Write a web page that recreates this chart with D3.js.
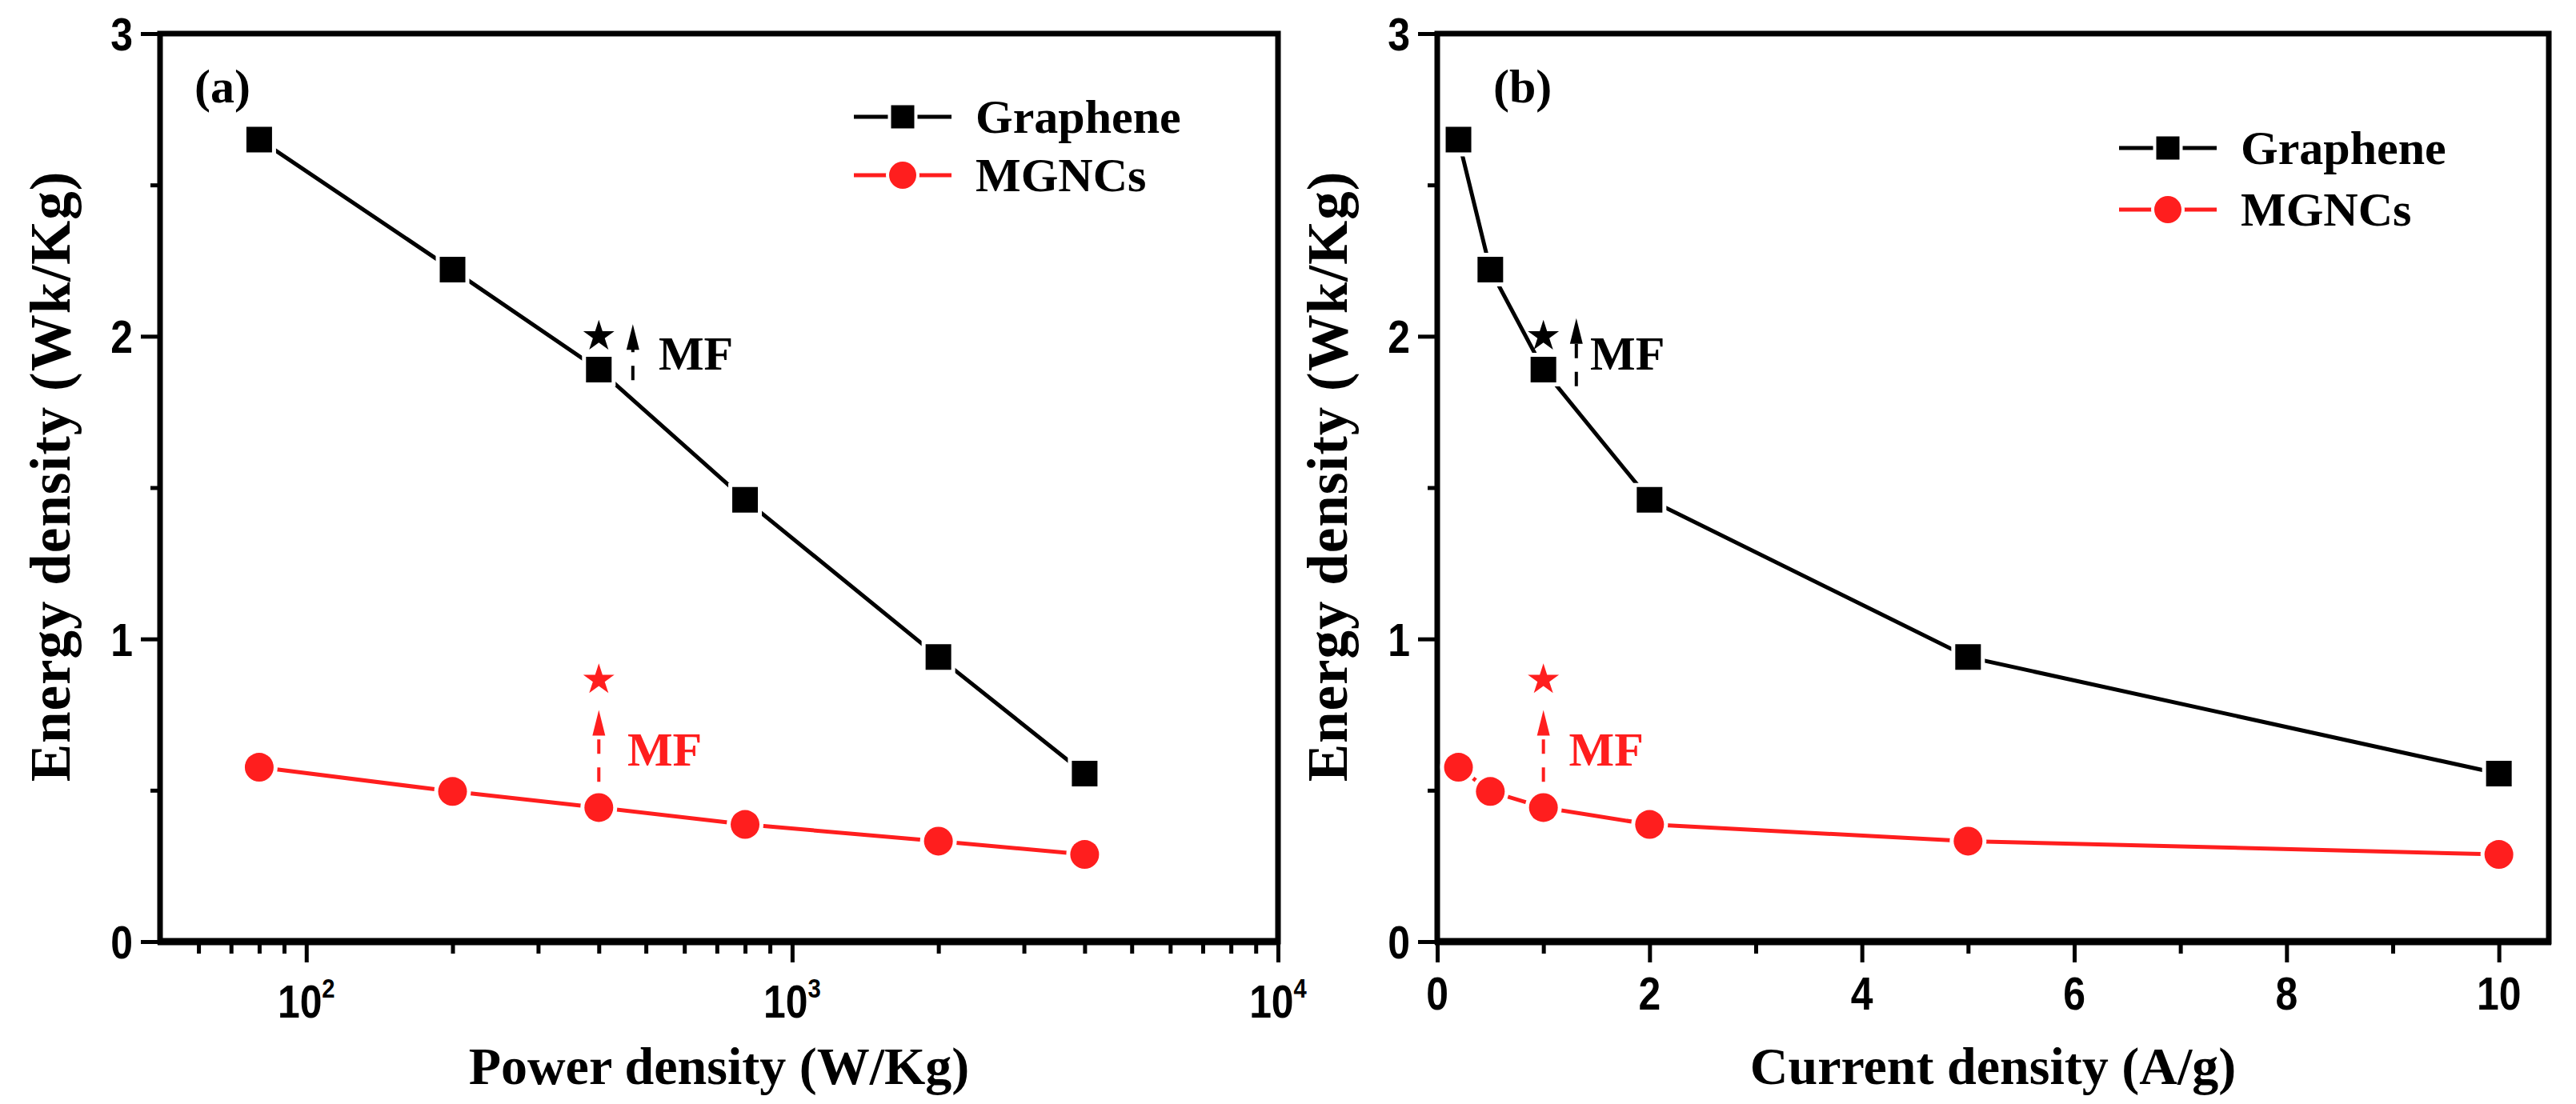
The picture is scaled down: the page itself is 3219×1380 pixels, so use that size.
<!DOCTYPE html>
<html><head><meta charset="utf-8">
<script src="https://cdn.jsdelivr.net/npm/d3@7"></script>
<style>html,body{margin:0;padding:0;background:#fff;} svg{display:block}</style>
</head><body>
<svg id="chart" width="3219" height="1380"></svg>
<script>
// ---------- data ----------
const seriesNames = ["Graphene", "MGNCs"];
const powerDensity = [80, 200, 400, 800, 2000, 4000];      // W/Kg  (panel a)
const currentDensity = [0.2, 0.5, 1, 2, 5, 10];              // A/g   (panel b)
const grapheneEnergy = [2.65, 2.22, 1.89, 1.46, 0.94, 0.555];
const mgncsEnergy = [0.576, 0.496, 0.443, 0.387, 0.332, 0.288];

const yTicks = [0, 1, 2, 3];
const yMinorTicks = [0.5, 1.5, 2.5];
const powerTicks = [100, 1000, 10000];
const powerTickExp = ["2", "3", "4"];
const powerMinorTicks = [60, 70, 80, 90, 200, 300, 400, 500, 600, 700, 800, 900,
                         2000, 3000, 4000, 5000, 6000, 7000, 8000, 9000];
const currentTicks = [0, 2, 4, 6, 8, 10];
const currentMinorTicks = [1, 3, 5, 7, 9];

// MF annotations (data units)
const mfStarsA = [{x: 400, y: 2.0, s: 0}, {x: 400, y: 0.865, s: 1}];
const mfArrowsA = [{x: 470, y0: 1.855, y1: 2.04, s: 0}, {x: 400, y0: 0.528, y1: 0.765, s: 1}];
const mfLabelsA = [{x: 531, y: 1.89, s: 0}, {x: 458, y: 0.581, s: 1}];
const mfStarsB = [{x: 1, y: 2.0, s: 0}, {x: 1, y: 0.865, s: 1}];
const mfArrowsB = [{x: 1.31, y0: 1.835, y1: 2.06, s: 0}, {x: 1, y0: 0.528, y1: 0.765, s: 1}];
const mfLabelsB = [{x: 1.44, y: 1.89, s: 0}, {x: 1.24, y: 0.581, s: 1}];

// ---------- style ----------
const colors = ["#000000", "#ff1e1e"];
const serif = "'Liberation Serif','Times New Roman',serif";
const sans = "'Liberation Sans',Arial,sans-serif";
const narrow = 0.86;

const svg = d3.select("#chart");

function panel(cfg) {
  const g = svg.append("g");
  const x = cfg.x, y = cfg.y;
  const [L, R] = x.range();
  const [B, T] = y.range();

  // frame
  g.append("rect").attr("x", L).attr("y", T).attr("width", R - L).attr("height", B - T)
    .attr("fill", "none").attr("stroke", "#000").attr("stroke-width", 7);
  g.append("line").attr("x1", L - 3).attr("x2", R + 3).attr("y1", B).attr("y2", B)
    .attr("stroke", "#000").attr("stroke-width", 9);

  // y ticks
  const yMaj = g.append("g").attr("transform", `translate(${L},0)`)
    .call(d3.axisLeft(y).tickValues(yTicks).tickSize(24).tickFormat(""));
  const yMin = g.append("g").attr("transform", `translate(${L},0)`)
    .call(d3.axisLeft(y).tickValues(yMinorTicks).tickSize(12).tickFormat(""));
  // x ticks
  const xMaj = g.append("g").attr("transform", `translate(0,${B})`)
    .call(d3.axisBottom(x).tickValues(cfg.xTicks).tickSize(26).tickFormat(""));
  const xMin = g.append("g").attr("transform", `translate(0,${B})`)
    .call(d3.axisBottom(x).tickValues(cfg.xMinor).tickSize(15).tickFormat(""));
  [yMaj, yMin, xMaj, xMin].forEach(a => {
    a.select(".domain").remove();
    a.selectAll("line").attr("stroke", "#000").attr("stroke-width", 5);
  });

  // y tick labels (slightly condensed sans)
  g.selectAll(".ylab").data(yTicks).join("text")
    .attr("transform", d => `translate(${L - 34},${y(d)}) scale(${narrow},1)`)
    .attr("dy", "0.36em")
    .attr("text-anchor", "end").attr("font-family", sans).attr("font-weight", "bold")
    .attr("font-size", 58).text(d => d);

  // x tick labels
  const xl = g.selectAll(".xlab").data(cfg.xTicks).join("text")
    .attr("transform", d => `translate(${x(d)},${cfg.xLabBase}) scale(${narrow},1)`)
    .attr("text-anchor", "middle").attr("font-family", sans).attr("font-weight", "bold")
    .attr("font-size", 58);
  if (cfg.exps) {
    xl.each(function(d, i) {
      const t = d3.select(this);
      t.append("tspan").text("10");
      t.append("tspan").attr("font-size", 34).attr("dy", -25).text(cfg.exps[i]);
    });
  } else {
    xl.text(d => d);
  }

  // axis titles
  g.append("text").attr("x", (L + R) / 2).attr("y", 1355).attr("text-anchor", "middle")
    .attr("font-family", serif).attr("font-weight", "bold").attr("font-size", 66)
    .text(cfg.xTitle);
  g.append("text").attr("transform", `translate(${L - 113},${(T + B) / 2 - 14}) rotate(-90)`)
    .attr("text-anchor", "middle").attr("font-family", serif).attr("font-weight", "bold")
    .attr("font-size", 71).attr("letter-spacing", 1).text("Energy density (Wk/Kg)");

  // panel letter
  g.append("text").attr("x", L + cfg.letterDx).attr("y", 128)
    .attr("font-family", serif).attr("font-weight", "bold").attr("font-size", 60)
    .text(cfg.letter);

  // series
  const series = [grapheneEnergy, mgncsEnergy];
  series.forEach((vals, si) => {
    const pts = cfg.xs.map((xv, i) => [x(xv), y(vals[i])]);
    g.append("path").attr("d", d3.line()(pts)).attr("fill", "none")
      .attr("stroke", colors[si]).attr("stroke-width", 5);
    // white halo then marker
    g.selectAll(null).data(pts).join("path")
      .attr("transform", p => `translate(${p[0]},${p[1]})`)
      .attr("d", si === 0 ? d3.symbol(d3.symbolSquare, 42 * 42)() : d3.symbol(d3.symbolCircle, Math.PI * 23 * 23)())
      .attr("fill", "#fff");
    g.selectAll(null).data(pts).join("path")
      .attr("transform", p => `translate(${p[0]},${p[1]})`)
      .attr("d", si === 0 ? d3.symbol(d3.symbolSquare, 32 * 32)() : d3.symbol(d3.symbolCircle, Math.PI * 18 * 18)())
      .attr("fill", colors[si]);
  });

  // MF stars
  g.selectAll(null).data(cfg.stars).join("path")
    .attr("transform", d => `translate(${x(d.x)},${y(d.y)})`)
    .attr("d", d3.symbol(d3.symbolStar, 470)())
    .attr("fill", d => colors[d.s]);
  // MF arrows (dashed shaft + head)
  cfg.arrows.forEach(a => {
    const ax = x(a.x), yb = y(a.y0), yt = y(a.y1), head = 32;
    g.append("line").attr("x1", ax).attr("x2", ax).attr("y1", yb).attr("y2", yt + head - 4)
      .attr("stroke", colors[a.s]).attr("stroke-width", 4).attr("stroke-dasharray", "18,17");
    g.append("path").attr("d", `M${ax},${yt} L${ax - 8},${yt + head} L${ax + 8},${yt + head} Z`)
      .attr("fill", colors[a.s]);
  });
  // MF labels
  g.selectAll(null).data(cfg.labels).join("text")
    .attr("x", d => x(d.x)).attr("y", d => y(d.y))
    .attr("font-family", serif).attr("font-weight", "bold").attr("font-size", 60)
    .attr("fill", d => colors[d.s]).text("MF");

  // legend
  seriesNames.forEach((name, si) => {
    const ly = cfg.legY[si], lx = cfg.legX;
    g.append("line").attr("x1", lx).attr("x2", lx + 122).attr("y1", ly).attr("y2", ly)
      .attr("stroke", colors[si]).attr("stroke-width", 5);
    g.append("path").attr("transform", `translate(${lx + 61},${ly})`)
      .attr("d", si === 0 ? d3.symbol(d3.symbolSquare, 37 * 37)() : d3.symbol(d3.symbolCircle, Math.PI * 21 * 21)())
      .attr("fill", "#fff");
    g.append("path").attr("transform", `translate(${lx + 61},${ly})`)
      .attr("d", si === 0 ? d3.symbol(d3.symbolSquare, 29 * 29)() : d3.symbol(d3.symbolCircle, Math.PI * 17 * 17)())
      .attr("fill", colors[si]);
    g.append("text").attr("x", lx + 152).attr("y", ly).attr("dy", "0.33em")
      .attr("font-family", serif).attr("font-weight", "bold").attr("font-size", 60)
      .text(name);
  });
}

const yA = d3.scaleLinear().domain([0, 3]).range([1177, 42]);
const xA = d3.scaleLog().domain([50, 10000]).range([200, 1597]);
const yB = d3.scaleLinear().domain([0, 3]).range([1177, 42]);
const xB = d3.scaleLinear().domain([0, 10.47]).range([1796, 3185]);

panel({x: xA, y: yA, xs: powerDensity, xTicks: powerTicks, xMinor: powerMinorTicks,
  exps: powerTickExp, xLabBase: 1272, xTitle: "Power density (W/Kg)", letter: "(a)", letterDx: 43,
  stars: mfStarsA, arrows: mfArrowsA, labels: mfLabelsA, legX: 1067, legY: [146, 219]});
panel({x: xB, y: yB, xs: currentDensity, xTicks: currentTicks, xMinor: currentMinorTicks,
  exps: null, xLabBase: 1262, xTitle: "Current density (A/g)", letter: "(b)", letterDx: 70,
  stars: mfStarsB, arrows: mfArrowsB, labels: mfLabelsB, legX: 2648, legY: [185, 262]});
</script>
</body></html>
